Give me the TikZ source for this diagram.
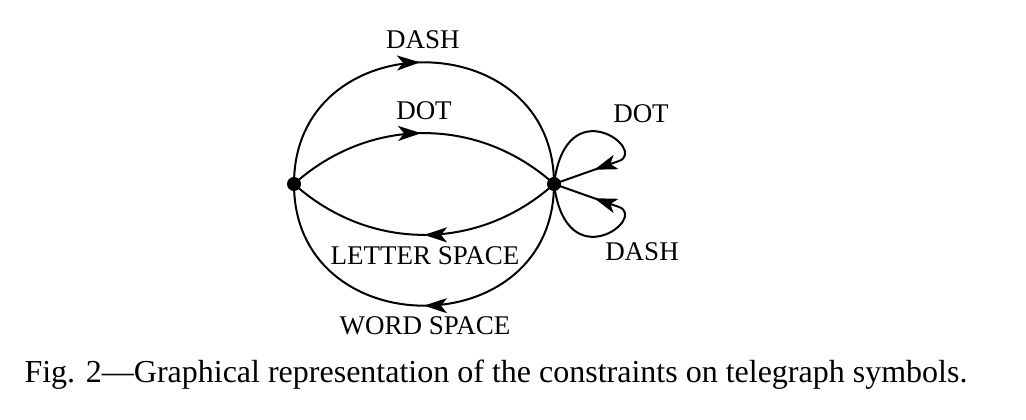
\documentclass[tikz,border=0pt]{standalone}
\usepackage{fontspec}
\setmainfont{Liberation Serif}
\usetikzlibrary{arrows.meta,decorations.markings}
\begin{document}
\begin{tikzpicture}[x=1pt,y=1pt,
  edge/.style={line width=2pt},
  midarrow/.style={postaction={decorate},decoration={markings,mark=at position #1 with {\arrow{Stealth[length=23pt,width=15pt,inset=6pt]}}}},
  state/.style={circle,fill,inner sep=0pt,minimum size=14pt},
  lbl/.style={font=\fontsize{27}{32}\selectfont,inner sep=0pt},
  captext/.style={font=\fontsize{32}{38}\selectfont,inner sep=0pt},
]
\useasboundingbox (0,0) rectangle (1026,420);
\node[state] (L) at (294,236) {};
\node[state] (R) at (554,236) {};
\coordinate (t1) at (619,259);
\coordinate (t2) at (619,213);
% outer circle
\draw[edge,midarrow=0.49] (L.center) to[out=90,in=90,looseness=1.6] (R.center);
\draw[edge,midarrow=0.5] (R.center) to[out=-90,in=-90,looseness=1.6] (L.center);
% inner arcs
\draw[edge,midarrow=0.49] (L.center) to[bend left=42] (R.center);
\draw[edge,midarrow=0.5] (R.center) to[bend left=42] (L.center);
% self loops
\draw[edge] (R.center) .. controls (566,332) and (648,270) .. (t1);
\draw[edge,midarrow=0.38] (t1) -- (R.center);
\draw[edge] (R.center) .. controls (566,140) and (648,202) .. (t2);
\draw[edge,midarrow=0.38] (t2) -- (R.center);
% labels
\node[lbl] (ldash) at (423,380) {DASH};
\node[lbl] (ldot) at (424,309) {DOT};
\node[lbl] (lletter) at (425,164) {LETTER SPACE};
\node[lbl] (lword) at (425,94) {WORD SPACE};
\node[lbl] (rdot) at (641,306) {DOT};
\node[lbl] (rdash) at (642,168) {DASH};
\node[captext,anchor=base] (caption) at (496,37) {Fig. 2---Graphical representation of the constraints on telegraph symbols.};
\end{tikzpicture}
\end{document}
